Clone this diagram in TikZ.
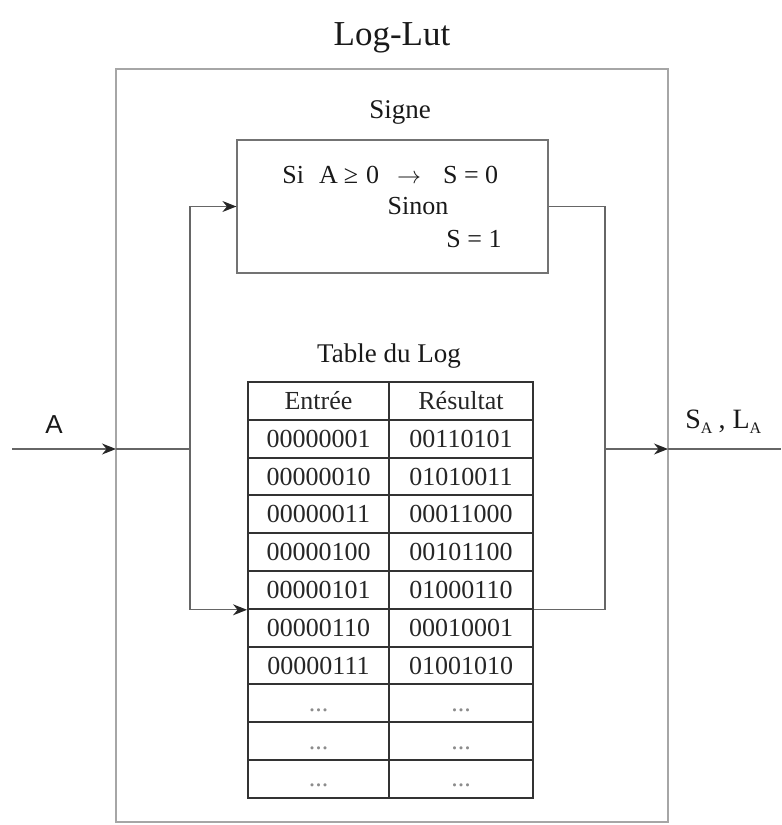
\documentclass[tikz,border=0pt]{standalone}
\usepackage{fontspec}
\setmainfont{Liberation Serif}
\setsansfont{Liberation Sans}
\usetikzlibrary{arrows.meta, positioning}
\tikzstyle{cadre} = [draw=black!35, line width=0.7pt]
\tikzstyle{bloc}  = [rectangle, draw=black!55, line width=0.6pt, minimum width=155.5pt,
    minimum height=66.5pt, inner sep=0pt]
\tikzstyle{texte} = [text=black!90, font=\fontsize{13}{15}\selectfont, inner sep=0pt]
\tikzstyle{cell}  = [rectangle, draw=black!80, line width=1pt, minimum height=18.9pt,
    inner sep=0pt, text=black!85, font=\fontsize{13}{15}\selectfont]
\tikzstyle{arrow} = [draw=black!60, line width=0.6pt,
    -{Stealth[length=7pt,width=5.5pt,color=black!85]}]
\tikzstyle{line}  = [draw=black!60, line width=0.6pt]
\begin{document}
\begin{tikzpicture}[x=0.5pt, y=-0.5pt]
    \useasboundingbox (0,0) rectangle (782,825);
    % cadre exterieur
    \draw [cadre] (116,69) rectangle (668,822);
    \node (titre) [texte, anchor=base, font=\fontsize{17.5}{20}\selectfont] at (392,45) {Log-Lut};
    % bloc du signe
    \node (lsigne) [texte, anchor=base, font=\fontsize{13.5}{15}\selectfont] at (400,118) {Signe};
    \node (signe)  [bloc] at (392.5,206.5) {};
    \node (cond)   [texte, anchor=base west] at (282,183)
        {Si\hspace{7.5pt}A\hspace{3pt}≥\hspace{4pt}0\hspace{9pt}$\rightarrow$\hspace{11pt}S = 0};
    \node (sinon)  [texte, anchor=base] at (418,214) {Sinon};
    \node (sun)    [texte, anchor=base east] at (502,247) {S = 1};
    % table du log
    \node (ltable) [texte, anchor=base, font=\fontsize{13.5}{15}\selectfont] at (389,362) {Table du Log};
    \foreach \ent/\res [count=\i from 0] in {Entrée/Résultat, 00000001/00110101,
        00000010/01010011, 00000011/00011000, 00000100/00101100,
        00000101/01000110, 00000110/00010001, 00000111/01001010} {
        \node (e\i) [cell, minimum width=70.5pt] at (318.5,400.9+37.8*\i) {\ent};
        \node (r\i) [cell, minimum width=72pt]   at (461,400.9+37.8*\i)   {\res};
    }
    \foreach \i in {8,9,10} {
        \node (e\i) [cell, minimum width=70.5pt, text=black!45] at (318.5,400.9+37.8*\i)
            {\raisebox{-4pt}[0pt][0pt]{...}};
        \node (r\i) [cell, minimum width=72pt, text=black!45]   at (461,400.9+37.8*\i)
            {\raisebox{-4pt}[0pt][0pt]{...}};
    }
    % entree et sortie
    \coordinate (entree) at (12,449);
    \coordinate (bordG)  at (116,449);
    \coordinate (noeudG) at (190,449);
    \coordinate (noeudD) at (605,449);
    \coordinate (bordD)  at (668,449);
    \coordinate (sortie) at (781,449);
    \node (la) [texte, anchor=base, font=\sffamily\fontsize{13}{15}\selectfont] at (54,433) {A};
    \node (ls) [texte, anchor=base west, font=\fontsize{14}{16}\selectfont] at (685,428)
        {S\raisebox{-0.45ex}{\fontsize{8}{9}\selectfont A}\hspace{3pt},
         L\raisebox{-0.45ex}{\fontsize{8}{9}\selectfont A}};
    \draw [arrow] (entree) -- (bordG);
    \draw [line]  (bordG) -- (noeudG);
    \draw [arrow] (noeudG) |- (signe.west);
    \draw [arrow] (noeudG) |- (e5.south west);
    \draw [line]  (signe.east) -| (noeudD);
    \draw [line]  (r5.south east) -| (noeudD);
    \draw [arrow] (noeudD) -- (bordD);
    \draw [line]  (bordD) -- (sortie);
\end{tikzpicture}
\end{document}
